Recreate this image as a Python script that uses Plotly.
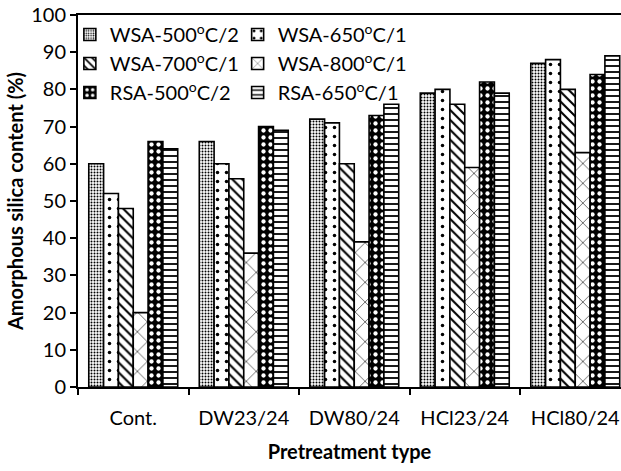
import plotly.graph_objects as go

categories = ["Cont.", "DW23/24", "DW80/24", "HCl23/24", "HCl80/24"]

wsa_500_2 = [60, 66, 72, 79, 87]
wsa_650_1 = [52, 60, 71, 80, 88]
wsa_700_1 = [48, 56, 60, 76, 80]
wsa_800_1 = [20, 36, 39, 59, 63]
rsa_500_2 = [66, 70, 73, 82, 84]
rsa_650_1 = [64, 69, 76, 79, 89]

series_names = [
    "WSA-500<sup>o</sup>C/2",
    "WSA-650<sup>o</sup>C/1",
    "WSA-700<sup>o</sup>C/1",
    "WSA-800<sup>o</sup>C/1",
    "RSA-500<sup>o</sup>C/2",
    "RSA-650<sup>o</sup>C/1",
]
series_values = [wsa_500_2, wsa_650_1, wsa_700_1, wsa_800_1, rsa_500_2, rsa_650_1]

y_ticks = [0, 10, 20, 30, 40, 50, 60, 70, 80, 90, 100]

FONT = "Lato"
FS = 20

# fill pattern per series (shape, size, solidity, fg, bg)
patterns = [
    dict(shape=".", size=3, solidity=0.35, fgcolor="black", bgcolor="white"),
    dict(shape=".", size=9, solidity=0.12, fgcolor="black", bgcolor="white"),
    dict(shape="\\", size=7, solidity=0.3, fgcolor="black", bgcolor="white"),
    dict(shape="x", size=14, solidity=0.08, fgcolor="black", bgcolor="white"),
    dict(shape=".", size=7, solidity=0.3, fgcolor="white", bgcolor="black"),
    dict(shape="-", size=6, solidity=0.3, fgcolor="black", bgcolor="white"),
]
legend_ids = ["legend", "legend2", "legend", "legend2", "legend", "legend2"]

fig = go.Figure()
for name, vals, pat, lg in zip(series_names, series_values, patterns, legend_ids):
    fig.add_trace(go.Bar(
        x=categories, y=vals, name=name, legend=lg,
        marker=dict(color="white", pattern=dict(fillmode="replace", **pat),
                    line=dict(color="black", width=1.6)),
    ))

legend_style = dict(
    font=dict(family=FONT, size=FS, color="black"),
    bgcolor="rgba(0,0,0,0)", borderwidth=0,
    xanchor="left", yanchor="top",
    orientation="v", tracegroupgap=0,
)

fig.update_layout(
    width=621, height=471,
    margin=dict(l=78, r=0, t=15, b=84, autoexpand=False),
    paper_bgcolor="white", plot_bgcolor="white",
    barmode="group", bargap=0.195, bargroupgap=0,
    font=dict(family=FONT, size=FS, color="black"),
    legend=dict(x=-0.015, y=1.0, **legend_style),
    legend2=dict(x=0.294, y=1.0, **legend_style),
    xaxis=dict(
        range=[-0.5, 4.414],
        showline=True, linecolor="black", linewidth=2, mirror=True,
        ticks="outside", tickson="boundaries", ticklen=6, tickwidth=1.5, tickcolor="black",
        ticklabelstandoff=12, tickangle=0, automargin=False,
        tickfont=dict(family=FONT, size=FS),
        title=dict(text="<b>Pretreatment type</b>", font=dict(family=FONT, size=FS), standoff=17),
        showgrid=False, zeroline=False,
    ),
    yaxis=dict(
        range=[0, 100], tickvals=y_ticks, automargin=False,
        showline=True, linecolor="black", linewidth=2,
        ticks="outside", ticklen=6, tickwidth=1.5, tickcolor="black",
        tickfont=dict(family=FONT, size=FS),
        title=dict(text="<b>Amorphous silica content (%)</b>", font=dict(family=FONT, size=FS), standoff=2),
        showgrid=False, zeroline=False,
    ),
)

fig.write_html("out.html")
